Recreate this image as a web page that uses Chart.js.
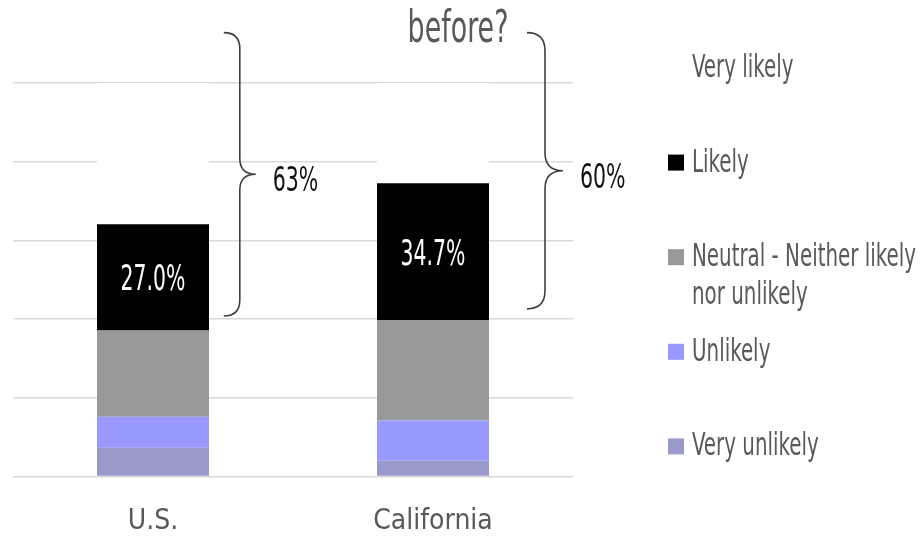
<!DOCTYPE html>
<html>
<head>
<meta charset="utf-8">
<script src="https://cdn.jsdelivr.net/npm/chart.js@4.4.1/dist/chart.umd.min.js"></script>
<style>
  html, body { margin: 0; padding: 0; background: #ffffff; overflow: hidden; }
  #wrap { width: 922px; height: 539px; position: relative; }
</style>
</head>
<body>
<div id="wrap"><canvas id="chart"></canvas></div>
<script>
// Survey answers by region, percent of respondents
const categories = ['U.S.', 'California'];
const seriesNames = ['Very unlikely', 'Unlikely', 'Neutral - Neither likely nor unlikely', 'Likely', 'Very likely'];
const veryUnlikely = [7.3, 4.0];
const unlikely     = [7.9, 10.2];
const neutral      = [21.9, 25.6];
const likely       = [27.0, 34.7];
const veryLikely   = [35.9, 25.5];
const yTicks = [0, 20, 40, 60, 80, 100];
const titleText = 'before?';

const seriesColors = ['#9999cc', '#9999ff', '#999999', '#000000', '#ffffff'];
const FONT = "'DejaVu Sans Condensed', 'DejaVu Sans', sans-serif";
const TEXT_GREY = '#595959';

// Brace annotations: span (in axis units) and horizontal offset (in category units)
const braceLow = [40.8, 42.6];
const braceHigh = [112.8, 112.8];
const braceOffset = [0.31, 0.40];
const braceRadius = [16, 18];

Chart.defaults.font.family = FONT;

const allSeries = [veryUnlikely, unlikely, neutral, likely, veryLikely];

// Tall, narrow lettering: draw text squeezed horizontally
function narrowText(ctx, text, x, y, size, sx, align, color) {
  ctx.save();
  ctx.font = size + 'px ' + FONT;
  ctx.fillStyle = color;
  ctx.textAlign = align;
  ctx.textBaseline = 'alphabetic';
  ctx.translate(x, y);
  ctx.scale(sx, 1);
  ctx.fillText(text, 0, 0);
  ctx.restore();
}

// Title line above the plot
const topTitle = {
  id: 'topTitle',
  afterDraw(chart) {
    narrowText(chart.ctx, titleText, 458, 42, 44, 0.68, 'center', TEXT_GREY);
  }
};

// White value labels inside the "Likely" segments
const likelyLabels = {
  id: 'likelyLabels',
  afterDatasetsDraw(chart) {
    const meta = chart.getDatasetMeta(3);
    meta.data.forEach((bar, i) => {
      const v = chart.data.datasets[3].data[i];
      const cy = (bar.y + bar.base) / 2;
      narrowText(chart.ctx, v.toFixed(1) + '%', bar.x, cy + 13, 36, 0.63, 'center', '#ffffff');
    });
  }
};

// Curly braces grouping Likely + Very likely, with their combined share
const braces = {
  id: 'braces',
  afterDraw(chart) {
    const ctx = chart.ctx;
    const xs = chart.scales.x, ys = chart.scales.y;
    categories.forEach((c, i) => {
      const vx = xs.getPixelForValue(i + braceOffset[i]);
      const top = ys.getPixelForValue(braceHigh[i]);
      const bot = ys.getPixelForValue(braceLow[i]);
      const mid = (top + bot) / 2;
      const r = braceRadius[i];
      ctx.save();
      ctx.beginPath();
      ctx.moveTo(vx - r, top);
      ctx.quadraticCurveTo(vx, top, vx, top + r);
      ctx.lineTo(vx, mid - r);
      ctx.quadraticCurveTo(vx, mid, vx + r, mid);
      ctx.quadraticCurveTo(vx, mid, vx, mid + r);
      ctx.lineTo(vx, bot - r);
      ctx.quadraticCurveTo(vx, bot, vx - r, bot);
      ctx.strokeStyle = '#404040';
      ctx.lineWidth = 1.6;
      ctx.stroke();
      ctx.restore();
      const total = likely[i] + veryLikely[i];
      narrowText(ctx, Math.round(total) + '%', vx + r + 17, mid + 17, 34, 0.67, 'left', '#111111');
    });
  }
};

// Legend on the right, top to bottom in reverse stacking order
const sideLegend = {
  id: 'sideLegend',
  afterDraw(chart) {
    const ctx = chart.ctx;
    const boxX = 668, textX = 692, top = 66, step = 94.6, lineH = 38, box = 16;
    const size = 32, sx = 0.69;
    const maxW = chart.width - textX - 2;
    ctx.save();
    ctx.font = size + 'px ' + FONT;
    const ds = chart.data.datasets.slice().reverse();
    ds.forEach((d, k) => {
      const y = top + step * k;
      ctx.fillStyle = d.backgroundColor;
      ctx.fillRect(boxX, y - box / 2 + 2, box, box);
      // wrap the label to the available width
      const words = d.label.split(' ');
      const lines = [];
      let line = '';
      words.forEach(w => {
        const t = line ? line + ' ' + w : w;
        if (ctx.measureText(t).width * sx > maxW && line) { lines.push(line); line = w; }
        else line = t;
      });
      lines.push(line);
      lines.forEach((l, j) => narrowText(ctx, l, textX, y + 11 + j * lineH, size, sx, 'left', TEXT_GREY));
    });
    ctx.restore();
  }
};

new Chart(document.getElementById('chart'), {
  type: 'bar',
  data: {
    labels: categories,
    datasets: allSeries.map((vals, i) => ({
      label: seriesNames[i],
      data: vals,
      backgroundColor: seriesColors[i],
      borderWidth: 0,
      barPercentage: 0.5,
      categoryPercentage: 0.8
    }))
  },
  options: {
    responsive: true,
    maintainAspectRatio: false,
    animation: false,
    layout: { padding: { left: 13, right: 349, top: 83, bottom: 0 } },
    plugins: {
      legend: { display: false },
      tooltip: { enabled: false },
      title: { display: false }
    },
    scales: {
      x: {
        stacked: true,
        grid: { display: false },
        border: { display: false },
        ticks: { color: TEXT_GREY, font: { size: 28 }, padding: 20, maxRotation: 0 },
        afterFit(scale) { scale.height = 62.5; }
      },
      y: {
        stacked: true,
        min: 0,
        max: 100,
        afterBuildTicks(axis) { axis.ticks = yTicks.map(v => ({ value: v })); },
        grid: { color: '#d9d9d9', lineWidth: 1.6, drawTicks: false },
        border: { display: false },
        ticks: { display: false },
        afterFit(scale) { scale.width = 0; }
      }
    }
  },
  plugins: [likelyLabels, braces, sideLegend, topTitle]
});
</script>
</body>
</html>
